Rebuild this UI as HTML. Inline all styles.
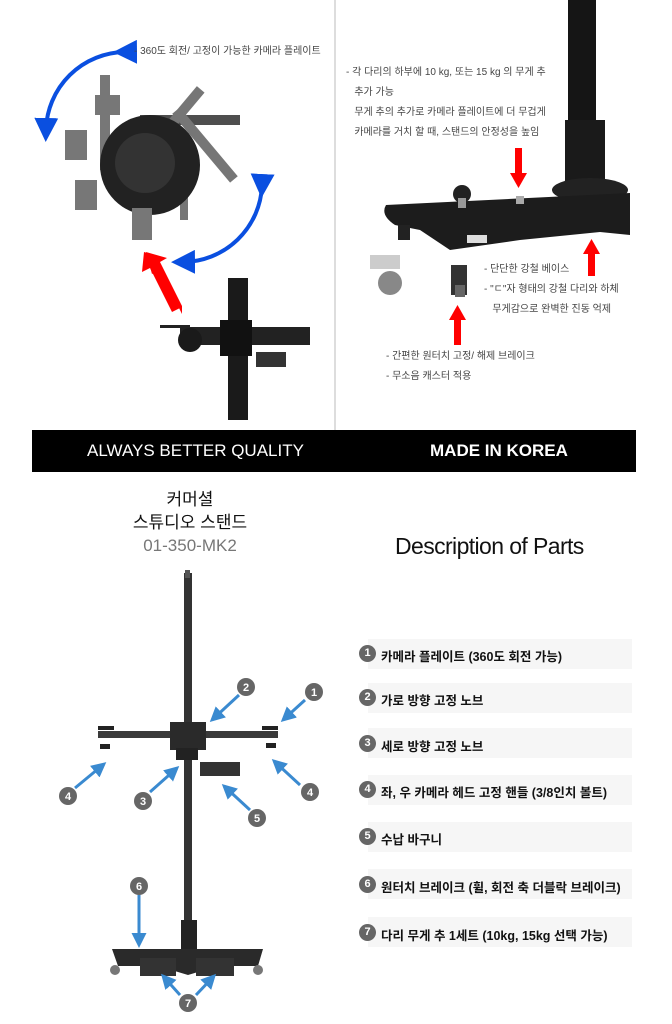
<!DOCTYPE html>
<html><head><meta charset="utf-8"><style>
body{margin:0;width:672px;height:1024px;background:#fff;position:relative;overflow:hidden;font-family:"Liberation Sans","Noto Sans CJK KR",sans-serif}
.t{position:absolute;font-size:10px;color:#444;line-height:20px;white-space:nowrap}
.band{position:absolute;left:32px;top:430px;width:604px;height:42px;background:#000;color:#fff;font-size:17px}
.band span{position:absolute;top:11px}
.row{position:absolute;left:368px;width:264px;height:30px;background:#f6f6f6}
.num{position:absolute;left:359px;width:17px;height:17px;border-radius:50%;background:#666;color:#fff;font-size:11px;font-weight:bold;text-align:center;line-height:17px}
.lbl{position:absolute;left:381px;font-size:12.5px;font-weight:bold;color:#111;white-space:nowrap}
</style></head><body>
<svg width="672" height="1024" style="position:absolute;left:0;top:0">
<defs>
<marker id="bh" markerWidth="6" markerHeight="6" refX="3" refY="3" orient="auto"><path d="M0,0L6,3L0,6z" fill="#0a4fe0"/></marker>
<marker id="lb" markerWidth="5" markerHeight="5" refX="4" refY="2.5" orient="auto"><path d="M0,0L5,2.5L0,5z" fill="#3a8ad0"/></marker>
</defs>
<line x1="335" y1="0" x2="335" y2="430" stroke="#bbb"/>
<path d="M125,52 A80,80 0 0 0 46,130" stroke="#0a4fe0" stroke-width="4" fill="none" marker-start="url(#bh)" marker-end="url(#bh)"/>
<path d="M262,186 A80,80 0 0 1 183,262" stroke="#0a4fe0" stroke-width="4" fill="none" marker-start="url(#bh)" marker-end="url(#bh)"/>
<g fill="#555" opacity=".8">
<rect x="100" y="75" width="10" height="95"/><rect x="140" y="115" width="100" height="10" fill="#222"/>
<rect x="170" y="80" width="10" height="80" transform="rotate(40 175 120)"/>
<rect x="200" y="100" width="10" height="90" transform="rotate(-40 205 145)"/>
<rect x="180" y="180" width="8" height="40"/>
</g>
<circle cx="150" cy="165" r="50" fill="#222"/>
<circle cx="145" cy="163" r="30" fill="#333"/>
<g fill="#777"><rect x="65" y="130" width="22" height="30"/><rect x="75" y="180" width="22" height="30"/><rect x="132" y="208" width="20" height="32"/><rect x="95" y="95" width="25" height="20"/></g>
<path d="M182,314 L160,270 L152,274 L146,252 L167,258 L160,262 L182,306z" fill="#f00"/>
<path d="M172,312 L150,268 L142,272 L144,252 L164,258 L157,262 L180,308z" fill="#f00"/>
<rect x="228" y="278" width="20" height="142" fill="#1a1a1a"/>
<rect x="180" y="327" width="130" height="18" fill="#222"/>
<circle cx="190" cy="340" r="12" fill="#1a1a1a"/>
<rect x="220" y="320" width="32" height="36" fill="#111"/>
<rect x="160" y="325" width="30" height="3" fill="#222"/>
<rect x="256" y="352" width="30" height="15" fill="#333"/>
<rect x="568" y="0" width="28" height="130" fill="#151515"/>
<rect x="565" y="120" width="40" height="70" fill="#1a1a1a"/>
<ellipse cx="590" cy="190" rx="38" ry="12" fill="#222"/>
<path d="M386,205 L630,193 L630,235 L600,232 L520,240 L450,250 L420,230 L395,225 Q380,215 386,205z" fill="#1c1c1c"/>
<circle cx="462" cy="194" r="9" fill="#222"/>
<rect x="458" y="198" width="8" height="10" fill="#999"/>
<rect x="516" y="196" width="8" height="8" fill="#aaa"/>
<rect x="398" y="225" width="12" height="15" fill="#222"/>
<circle cx="390" cy="283" r="12" fill="#888"/>
<rect x="370" y="255" width="30" height="14" fill="#ccc"/>
<rect x="451" y="265" width="16" height="30" fill="#333"/>
<rect x="455" y="285" width="10" height="12" fill="#666"/>
<rect x="467" y="235" width="20" height="8" fill="#ddd"/>
<g fill="#f00">
<rect x="515" y="148" width="7" height="25"/><path d="M510,173h17l-8.5,15z"/>
<rect x="588" y="254" width="7" height="22"/><path d="M583,254h17l-8.5,-15z"/>
<rect x="454" y="320" width="7" height="25"/><path d="M449,320h17l-8.5,-15z"/>
</g>
<rect x="184" y="573" width="8" height="350" fill="#333"/>
<rect x="185" y="570" width="5" height="8" fill="#555"/>
<rect x="181" y="920" width="16" height="30" fill="#222"/>
<rect x="98" y="731" width="180" height="7" fill="#3a3a3a"/>
<rect x="170" y="722" width="36" height="28" fill="#2a2a2a"/>
<rect x="176" y="748" width="22" height="12" fill="#222"/>
<rect x="200" y="762" width="40" height="14" fill="#333"/>
<rect x="98" y="726" width="16" height="4" fill="#222"/><rect x="262" y="726" width="16" height="4" fill="#222"/>
<rect x="100" y="744" width="10" height="5" fill="#222"/><rect x="266" y="743" width="10" height="5" fill="#222"/>
<path d="M112,949 L263,949 L258,966 L218,966 L188,975 L158,966 L118,966z" fill="#2a2a2a"/>
<rect x="140" y="958" width="36" height="18" fill="#333"/><rect x="196" y="958" width="38" height="18" fill="#333"/>
<circle cx="115" cy="970" r="5" fill="#777"/><circle cx="258" cy="970" r="5" fill="#777"/>
<g stroke="#3a8ad0" stroke-width="3" marker-end="url(#lb)">
<line x1="305" y1="700" x2="283" y2="720"/><line x1="239" y1="695" x2="212" y2="720"/>
<line x1="150" y1="792" x2="177" y2="768"/><line x1="75" y1="788" x2="104" y2="764"/>
<line x1="300" y1="785" x2="274" y2="761"/><line x1="250" y1="810" x2="224" y2="786"/>
<line x1="139" y1="895" x2="139" y2="945"/><line x1="180" y1="995" x2="163" y2="976"/><line x1="196" y1="995" x2="214" y2="976"/>
</g>
<g fill="#666"><circle cx="314" cy="692" r="9"/><circle cx="246" cy="687" r="9"/><circle cx="143" cy="801" r="9"/><circle cx="68" cy="796" r="9"/><circle cx="310" cy="792" r="9"/><circle cx="257" cy="818" r="9"/><circle cx="139" cy="886" r="9"/><circle cx="188" cy="1003" r="9"/></g>
<g fill="#fff" font-size="11" font-weight="bold" text-anchor="middle" font-family="Liberation Sans"><text x="314" y="696">1</text><text x="246" y="691">2</text><text x="143" y="805">3</text><text x="68" y="800">4</text><text x="310" y="796">4</text><text x="257" y="822">5</text><text x="139" y="890">6</text><text x="188" y="1007">7</text></g>
</svg>
<div class="t" style="left:134px;top:42px">- 360도 회전/ 고정이 가능한 카메라 플레이트</div>
<div class="t" style="left:346px;top:63px">- 각 다리의 하부에 10 kg, 또는 15 kg 의 무게 추<br>&nbsp;&nbsp;&nbsp;추가 가능<br>&nbsp;&nbsp;&nbsp;무게 추의 추가로 카메라 플레이트에 더 무겁게<br>&nbsp;&nbsp;&nbsp;카메라를 거치 할 때, 스탠드의 안정성을 높임</div>
<div class="t" style="left:484px;top:260px">- 단단한 강철 베이스<br>- "ㄷ"자 형태의 강철 다리와 하체<br>&nbsp;&nbsp;&nbsp;무게감으로 완벽한 진동 억제</div>
<div class="t" style="left:386px;top:347px">- 간편한 원터치 고정/ 해제 브레이크<br>- 무소음 캐스터 적용</div>
<div class="band"><span style="left:55px">ALWAYS BETTER QUALITY</span><span style="left:398px;font-weight:bold">MADE IN KOREA</span></div>
<div style="position:absolute;left:90px;width:200px;top:488px;text-align:center;font-size:17px;line-height:23px;color:#111">커머셜<br>스튜디오 스탠드<br><span style="color:#777">01-350-MK2</span></div>
<div style="position:absolute;left:395px;top:533px;font-size:23px;color:#111;letter-spacing:-.6px">Description of Parts</div>
<div class="row" style="top:639px"></div><div class="row" style="top:683px"></div><div class="row" style="top:728px"></div><div class="row" style="top:775px"></div><div class="row" style="top:822px"></div><div class="row" style="top:869px"></div><div class="row" style="top:917px"></div>
<div class="num" style="top:645px">1</div><div class="lbl" style="top:646px">카메라 플레이트 (360도 회전 가능)</div>
<div class="num" style="top:689px">2</div><div class="lbl" style="top:690px">가로 방향 고정 노브</div>
<div class="num" style="top:735px">3</div><div class="lbl" style="top:736px">세로 방향 고정 노브</div>
<div class="num" style="top:781px">4</div><div class="lbl" style="top:782px">좌, 우 카메라 헤드 고정 핸들 (3/8인치 볼트)</div>
<div class="num" style="top:828px">5</div><div class="lbl" style="top:829px">수납 바구니</div>
<div class="num" style="top:876px">6</div><div class="lbl" style="top:877px">원터치 브레이크 (휠, 회전 축 더블락 브레이크)</div>
<div class="num" style="top:924px">7</div><div class="lbl" style="top:925px">다리 무게 추 1세트 (10kg, 15kg 선택 가능)</div>
</body></html>
